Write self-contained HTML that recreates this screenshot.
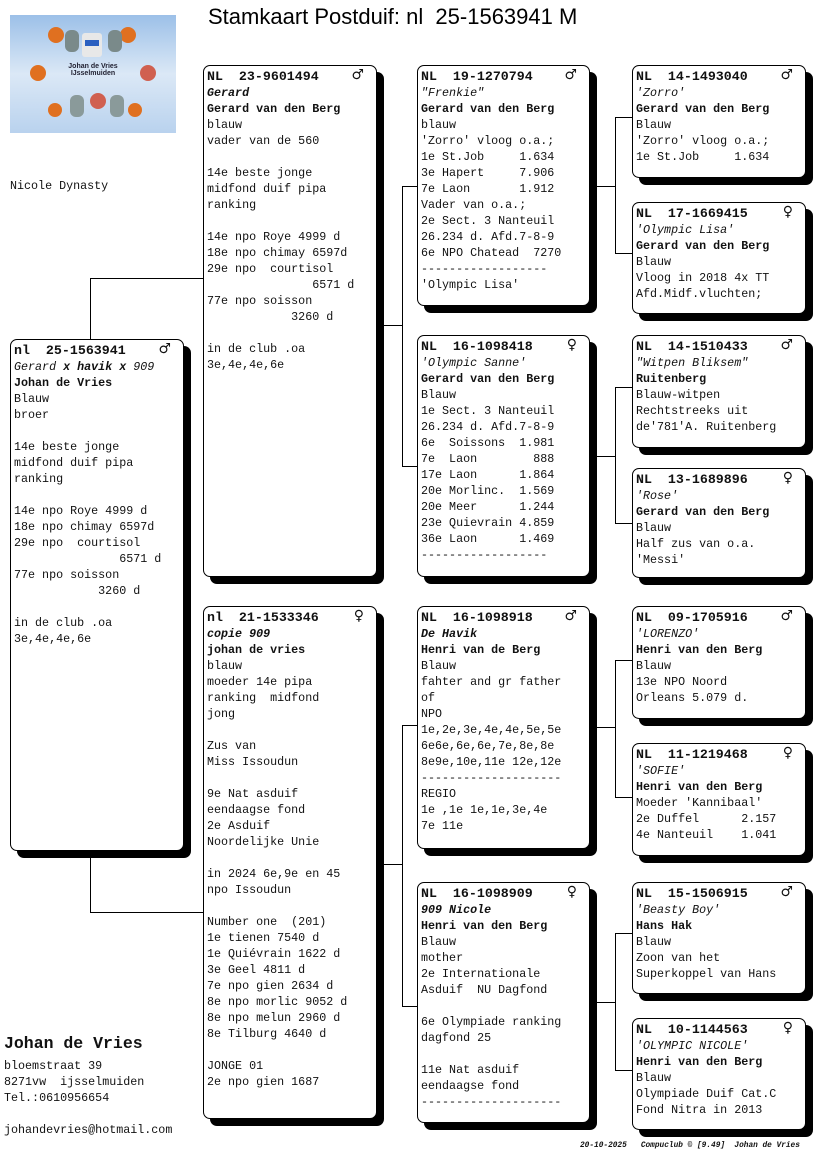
<!DOCTYPE html>
<html><head><meta charset="utf-8"><style>
*{margin:0;padding:0;box-sizing:border-box}
body{width:816px;height:1172px;background:#fff;position:relative;overflow:hidden;font-family:"Liberation Mono","DejaVu Sans Mono",monospace;font-size:11.7px;color:#111}
.b{position:absolute;border:1px solid #000;border-radius:7px;background:#fff;box-shadow:7px 7px 0 #000;padding:3px 0 0 3px;white-space:pre;line-height:16px}
.b b{font-weight:bold}
.b .h{font-size:13.3px;font-weight:bold}
.s{position:absolute;right:12px;top:1px;font-family:"DejaVu Sans",sans-serif;font-size:14px;font-weight:bold}
.l{position:absolute;background:#000}
.t{position:absolute;white-space:pre;line-height:16px}
</style></head><body>
<div style="position:absolute;left:10px;top:15px;width:166px;height:118px;background:linear-gradient(180deg,#9cc0e8,#dbe8f6 50%,#b9d2ee);">
<div style="position:absolute;left:72px;top:18px;width:20px;height:24px;background:#e8e8e8;border-radius:3px"></div>
<div style="position:absolute;left:75px;top:25px;width:14px;height:6px;background:#2a5fc0"></div>
<div style="position:absolute;left:52px;top:48px;width:62px;font:bold 7px 'Liberation Sans',sans-serif;color:#223;text-align:center">Johan de Vries<br>IJsselmuiden</div>
<div style="position:absolute;left:38px;top:12px;width:16px;height:16px;border-radius:50%;background:#e07020"></div>
<div style="position:absolute;left:110px;top:12px;width:16px;height:16px;border-radius:50%;background:#e07020"></div>
<div style="position:absolute;left:20px;top:50px;width:16px;height:16px;border-radius:50%;background:#e07020"></div>
<div style="position:absolute;left:130px;top:50px;width:16px;height:16px;border-radius:50%;background:#d06050"></div>
<div style="position:absolute;left:38px;top:88px;width:14px;height:14px;border-radius:50%;background:#e07020"></div>
<div style="position:absolute;left:80px;top:78px;width:16px;height:16px;border-radius:50%;background:#d06050"></div>
<div style="position:absolute;left:118px;top:88px;width:14px;height:14px;border-radius:50%;background:#e07020"></div>
<div style="position:absolute;left:55px;top:15px;width:14px;height:22px;border-radius:6px;background:#7a8a8a"></div>
<div style="position:absolute;left:98px;top:15px;width:14px;height:22px;border-radius:6px;background:#7a8a8a"></div>
<div style="position:absolute;left:60px;top:80px;width:14px;height:22px;border-radius:6px;background:#8a9a9a"></div>
<div style="position:absolute;left:100px;top:80px;width:14px;height:22px;border-radius:6px;background:#8a9a9a"></div>
</div>
<div style="position:absolute;left:208px;top:4px;font:22px 'Liberation Sans',sans-serif;white-space:pre;color:#000">Stamkaart Postduif: nl  25-1563941 M</div>
<div class="t" style="left:10px;top:178px">Nicole Dynasty</div>

<div class="l" style="left:90px;top:278px;width:1px;height:61px"></div>
<div class="l" style="left:90px;top:278px;width:113px;height:1px"></div>
<div class="l" style="left:90px;top:850px;width:1px;height:62px"></div>
<div class="l" style="left:90px;top:912px;width:113px;height:1px"></div>

<div class="l" style="left:377px;top:325px;width:25px;height:1px"></div>
<div class="l" style="left:402px;top:186px;width:1px;height:281px"></div>
<div class="l" style="left:402px;top:186px;width:15px;height:1px"></div>
<div class="l" style="left:402px;top:466px;width:15px;height:1px"></div>

<div class="l" style="left:377px;top:864px;width:25px;height:1px"></div>
<div class="l" style="left:402px;top:725px;width:1px;height:282px"></div>
<div class="l" style="left:402px;top:725px;width:15px;height:1px"></div>
<div class="l" style="left:402px;top:1006px;width:15px;height:1px"></div>

<div class="l" style="left:590px;top:186px;width:25px;height:1px"></div>
<div class="l" style="left:615px;top:117px;width:1px;height:137px"></div>
<div class="l" style="left:615px;top:117px;width:17px;height:1px"></div>
<div class="l" style="left:615px;top:253px;width:17px;height:1px"></div>

<div class="l" style="left:590px;top:456px;width:25px;height:1px"></div>
<div class="l" style="left:615px;top:387px;width:1px;height:137px"></div>
<div class="l" style="left:615px;top:387px;width:17px;height:1px"></div>
<div class="l" style="left:615px;top:523px;width:17px;height:1px"></div>

<div class="l" style="left:590px;top:727px;width:25px;height:1px"></div>
<div class="l" style="left:615px;top:660px;width:1px;height:138px"></div>
<div class="l" style="left:615px;top:660px;width:17px;height:1px"></div>
<div class="l" style="left:615px;top:797px;width:17px;height:1px"></div>

<div class="l" style="left:590px;top:1002px;width:25px;height:1px"></div>
<div class="l" style="left:615px;top:933px;width:1px;height:138px"></div>
<div class="l" style="left:615px;top:933px;width:17px;height:1px"></div>
<div class="l" style="left:615px;top:1070px;width:17px;height:1px"></div>

<div class="b" style="left:10px;top:339px;width:174px;height:512px"><span class="h">nl  25-1563941</span><span class="s">♂</span>
<i>Gerard <b>x havik x</b> 909</i>
<b>Johan de Vries</b>
Blauw
broer

14e beste jonge
midfond duif pipa
ranking

14e npo Roye 4999 d
18e npo chimay 6597d
29e npo  courtisol
               6571 d
77e npo soisson
            3260 d

in de club .oa
3e,4e,4e,6e</div>

<div class="b" style="left:203px;top:65px;width:174px;height:512px"><span class="h">NL  23-9601494</span><span class="s">♂</span>
<i><b>Gerard</b></i>
<b>Gerard van den Berg</b>
blauw
vader van de 560

14e beste jonge
midfond duif pipa
ranking

14e npo Roye 4999 d
18e npo chimay 6597d
29e npo  courtisol
               6571 d
77e npo soisson
            3260 d

in de club .oa
3e,4e,4e,6e</div>

<div class="b" style="left:203px;top:606px;width:174px;height:513px"><span class="h">nl  21-1533346</span><span class="s">♀</span>
<i><b>copie 909</b></i>
<b>johan de vries</b>
blauw
moeder 14e pipa
ranking  midfond
jong

Zus van
Miss Issoudun

9e Nat asduif
eendaagse fond
2e Asduif
Noordelijke Unie

in 2024 6e,9e en 45
npo Issoudun

Number one  (201)
1e tienen 7540 d
1e Quiévrain 1622 d
3e Geel 4811 d
7e npo gien 2634 d
8e npo morlic 9052 d
8e npo melun 2960 d
8e Tilburg 4640 d

JONGE 01
2e npo gien 1687</div>

<div class="b" style="left:417px;top:65px;width:173px;height:241px"><span class="h">NL  19-1270794</span><span class="s">♂</span>
<i>"Frenkie"</i>
<b>Gerard van den Berg</b>
blauw
'Zorro' vloog o.a.;
1e St.Job     1.634
3e Hapert     7.906
7e Laon       1.912
Vader van o.a.;
2e Sect. 3 Nanteuil
26.234 d. Afd.7-8-9
6e NPO Chatead  7270
------------------
'Olympic Lisa'</div>

<div class="b" style="left:417px;top:335px;width:173px;height:242px"><span class="h">NL  16-1098418</span><span class="s">♀</span>
<i>'Olympic Sanne'</i>
<b>Gerard van den Berg</b>
Blauw
1e Sect. 3 Nanteuil
26.234 d. Afd.7-8-9
6e  Soissons  1.981
7e  Laon        888
17e Laon      1.864
20e Morlinc.  1.569
20e Meer      1.244
23e Quievrain 4.859
36e Laon      1.469
------------------</div>

<div class="b" style="left:417px;top:606px;width:173px;height:243px"><span class="h">NL  16-1098918</span><span class="s">♂</span>
<i><b>De Havik</b></i>
<b>Henri van de Berg</b>
Blauw
fahter and gr father
of
NPO
1e,2e,3e,4e,4e,5e,5e
6e6e,6e,6e,7e,8e,8e
8e9e,10e,11e 12e,12e
--------------------
REGIO
1e ,1e 1e,1e,3e,4e
7e 11e</div>

<div class="b" style="left:417px;top:882px;width:173px;height:241px"><span class="h">NL  16-1098909</span><span class="s">♀</span>
<i><b>909 Nicole</b></i>
<b>Henri van den Berg</b>
Blauw
mother
2e Internationale
Asduif  NU Dagfond

6e Olympiade ranking
dagfond 25

11e Nat asduif
eendaagse fond
--------------------</div>

<div class="b" style="left:632px;top:65px;width:174px;height:113px"><span class="h">NL  14-1493040</span><span class="s">♂</span>
<i>'Zorro'</i>
<b>Gerard van den Berg</b>
Blauw
'Zorro' vloog o.a.;
1e St.Job     1.634</div>

<div class="b" style="left:632px;top:202px;width:174px;height:112px"><span class="h">NL  17-1669415</span><span class="s">♀</span>
<i>'Olympic Lisa'</i>
<b>Gerard van den Berg</b>
Blauw
Vloog in 2018 4x TT
Afd.Midf.vluchten;</div>

<div class="b" style="left:632px;top:335px;width:174px;height:113px"><span class="h">NL  14-1510433</span><span class="s">♂</span>
<i>"Witpen Bliksem"</i>
<b>Ruitenberg</b>
Blauw-witpen
Rechtstreeks uit
de'781'A. Ruitenberg</div>

<div class="b" style="left:632px;top:468px;width:174px;height:110px"><span class="h">NL  13-1689896</span><span class="s">♀</span>
<i>'Rose'</i>
<b>Gerard van den Berg</b>
Blauw
Half zus van o.a.
'Messi'</div>

<div class="b" style="left:632px;top:606px;width:174px;height:113px"><span class="h">NL  09-1705916</span><span class="s">♂</span>
<i>'LORENZO'</i>
<b>Henri van den Berg</b>
Blauw
13e NPO Noord
Orleans 5.079 d.</div>

<div class="b" style="left:632px;top:743px;width:174px;height:113px"><span class="h">NL  11-1219468</span><span class="s">♀</span>
<i>'SOFIE'</i>
<b>Henri van den Berg</b>
Moeder 'Kannibaal'
2e Duffel      2.157
4e Nanteuil    1.041</div>

<div class="b" style="left:632px;top:882px;width:174px;height:112px"><span class="h">NL  15-1506915</span><span class="s">♂</span>
<i>'Beasty Boy'</i>
<b>Hans Hak</b>
Blauw
Zoon van het
Superkoppel van Hans</div>

<div class="b" style="left:632px;top:1018px;width:174px;height:112px"><span class="h">NL  10-1144563</span><span class="s">♀</span>
<i>'OLYMPIC NICOLE'</i>
<b>Henri van den Berg</b>
Blauw
Olympiade Duif Cat.C
Fond Nitra in 2013</div>

<div class="t" style="left:4px;top:1034px;font-size:16.5px;font-weight:bold;line-height:20px">Johan de Vries</div>
<div class="t" style="left:4px;top:1058px">bloemstraat 39
8271vw  ijsselmuiden
Tel.:0610956654

johandevries@hotmail.com</div>
<div class="t" style="left:580px;top:1138px;font-size:7.8px;font-style:italic;font-weight:bold">20-10-2025   Compuclub © [9.49]  Johan de Vries</div>
</body></html>
